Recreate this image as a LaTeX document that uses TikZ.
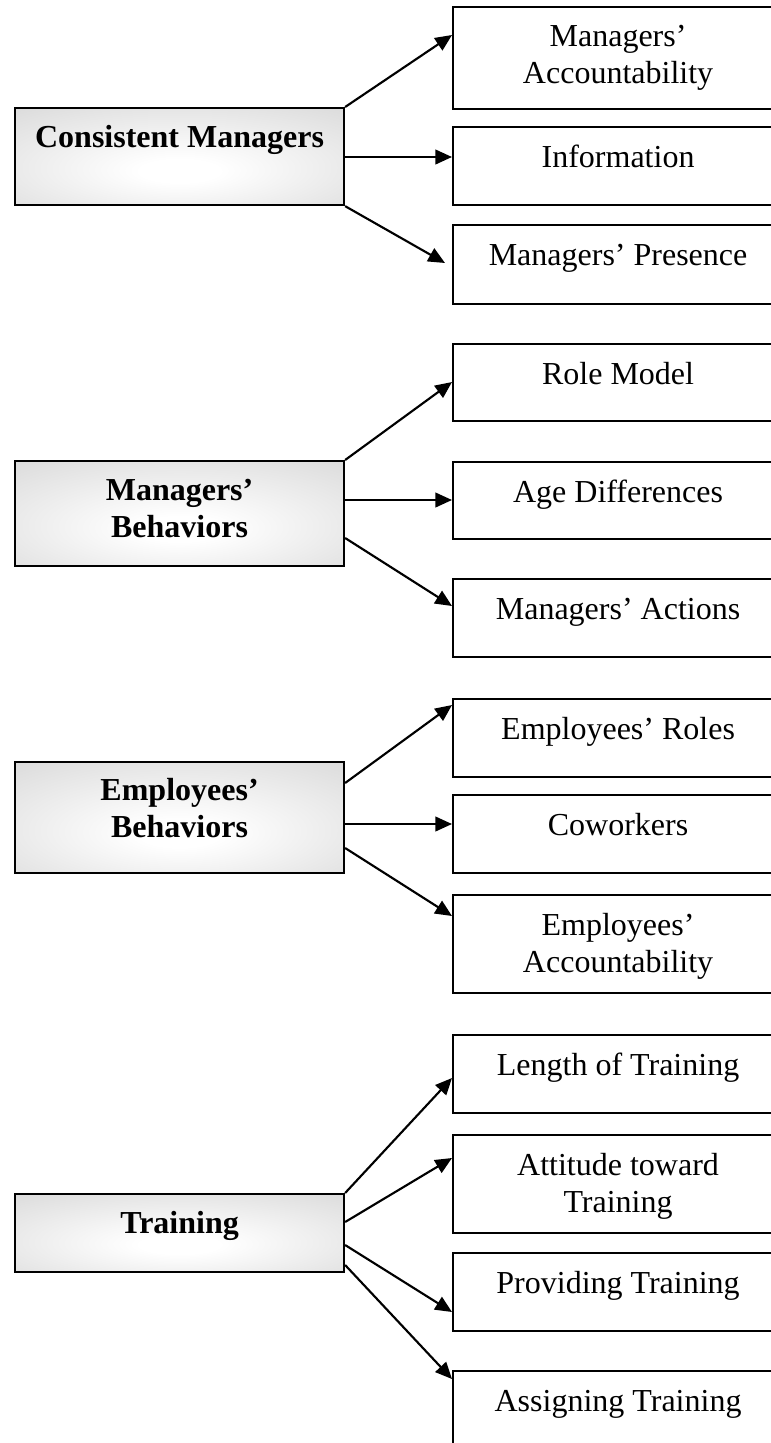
\documentclass[tikz,border=0pt]{standalone}
\usepackage{fontspec}
\setmainfont{Liberation Serif}
\usetikzlibrary{arrows.meta,calc}
\definecolor{boxgray}{gray}{0.855}
\pgfdeclareradialshading{boxglow}{\pgfpoint{0bp}{-8bp}}{color(0bp)=(white); color(6bp)=(white); color(40bp)=(boxgray); color(80bp)=(boxgray)}
\begin{document}
\begin{tikzpicture}[x=0.75pt,y=-0.75pt,
  lbox/.style={draw=black,line width=1.6pt,shading=boxglow,anchor=north west,inner sep=0pt,minimum width=246.75pt},
  rbox/.style={draw=black,line width=1.6pt,fill=white,anchor=north west,inner sep=0pt,minimum width=247.5pt},
  ltxt/.style={anchor=base,inner sep=0pt,font=\fontsize{24}{27.75}\selectfont\bfseries},
  rtxt/.style={anchor=base,inner sep=0pt,font=\fontsize{24}{27.75}\selectfont},
  conn/.style={line width=1.6pt,-{Triangle[length=12.5pt,width=11pt]}}]
\useasboundingbox (0,0) rectangle (771,1443);
\clip (0,0) rectangle (771,1443);
\fill[white] (0,0) rectangle (771,1443);
% left boxes
\node[lbox,minimum height=72.75pt] (L1) at (14,107) {};
\node[lbox,minimum height=78.75pt] (L2) at (14,460) {};
\node[lbox,minimum height=83.25pt] (L3) at (14,761) {};
\node[lbox,minimum height=58.5pt] (L4) at (14,1193) {};
% right boxes
\node[rbox,minimum height=76.5pt] (R1) at (452,6) {};
\node[rbox,minimum height=58.5pt] (R2) at (452,126) {};
\node[rbox,minimum height=59.25pt] (R3) at (452,224) {};
\node[rbox,minimum height=57.75pt] (R4) at (452,343) {};
\node[rbox,minimum height=57.75pt] (R5) at (452,461) {};
\node[rbox,minimum height=58.5pt] (R6) at (452,578) {};
\node[rbox,minimum height=58.5pt] (R7) at (452,698) {};
\node[rbox,minimum height=58.5pt] (R8) at (452,794) {};
\node[rbox,minimum height=73.5pt] (R9) at (452,894) {};
\node[rbox,minimum height=58.5pt] (R10) at (452,1034) {};
\node[rbox,minimum height=73.5pt] (R11) at (452,1134) {};
\node[rbox,minimum height=58.5pt] (R12) at (452,1252) {};
\node[rbox,minimum height=90pt] (R13) at (452,1370) {};
% left texts
\node[ltxt] (T1) at ($(L1.north)+(0,40)$) {Consistent Managers};
\node[ltxt] (T2) at ($(L2.north)+(0,40)$) {\parbox[t]{240pt}{\centering Managers’\\Behaviors}};
\node[ltxt] (T3) at ($(L3.north)+(0,39)$) {\parbox[t]{240pt}{\centering Employees’\\Behaviors}};
\node[ltxt] (T4) at ($(L4.north)+(0,40)$) {Training};
% right texts
\node[rtxt] (S1) at ($(R1.north)+(0,40)$) {\parbox[t]{240pt}{\centering Managers’\\Accountability}};
\node[rtxt] (S2) at ($(R2.north)+(0,41)$) {Information};
\node[rtxt] (S3) at ($(R3.north)+(0,41)$) {Managers’ Presence};
\node[rtxt] (S4) at ($(R4.north)+(0,41)$) {Role Model};
\node[rtxt] (S5) at ($(R5.north)+(0,41)$) {Age Differences};
\node[rtxt] (S6) at ($(R6.north)+(0,41)$) {Managers’ Actions};
\node[rtxt] (S7) at ($(R7.north)+(0,41)$) {Employees’ Roles};
\node[rtxt] (S8) at ($(R8.north)+(0,41)$) {Coworkers};
\node[rtxt] (S9) at ($(R9.north)+(0,41)$) {\parbox[t]{240pt}{\centering Employees’\\Accountability}};
\node[rtxt] (S10) at ($(R10.north)+(0,41)$) {Length of Training};
\node[rtxt] (S11) at ($(R11.north)+(0,41)$) {\parbox[t]{240pt}{\centering Attitude toward\\Training}};
\node[rtxt] (S12) at ($(R12.north)+(0,41)$) {Providing Training};
\node[rtxt] (S13) at ($(R13.north)+(0,41)$) {Assigning Training};
% connectors
\draw[conn] (L1.north east) -- ($(R1.north west)+(0,29)$);
\draw[conn] ($(L1.north east)+(0,50)$) -- ($(R2.north west)+(0,31)$);
\draw[conn] (L1.south east) -- ($(R3.north west)+(-7,39)$);
\draw[conn] (L2.north east) -- ($(R4.north west)+(0,39)$);
\draw[conn] ($(L2.north east)+(0,40)$) -- ($(R5.north west)+(0,39)$);
\draw[conn] ($(L2.north east)+(0,78)$) -- ($(R6.north west)+(0,28)$);
\draw[conn] ($(L3.north east)+(0,22)$) -- ($(R7.north west)+(0,7)$);
\draw[conn] ($(L3.north east)+(0,63)$) -- ($(R8.north west)+(0,30)$);
\draw[conn] ($(L3.north east)+(0,87)$) -- ($(R9.north west)+(0,22)$);
\draw[conn] (L4.north east) -- ($(R10.north west)+(0,44)$);
\draw[conn] ($(L4.north east)+(0,29)$) -- ($(R11.north west)+(0,24)$);
\draw[conn] ($(L4.north east)+(0,52)$) -- ($(R12.north west)+(0,60)$);
\draw[conn] ($(L4.north east)+(0,72)$) -- ($(R13.north west)+(0,9)$);
\end{tikzpicture}
\end{document}
